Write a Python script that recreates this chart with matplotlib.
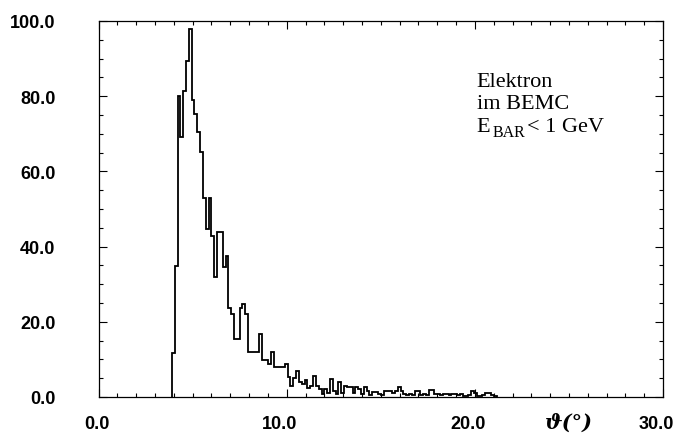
"""
Elektron im BEMC, E_BAR < 1 GeV — Winkelverteilung (Histogramm, Stufenlinie)
"""
import numpy as np
import matplotlib
matplotlib.use("Agg")
import matplotlib.pyplot as plt
from matplotlib.ticker import MultipleLocator, FixedLocator
from matplotlib.transforms import ScaledTranslation

# Histogramm: Binbreite 0.15 Grad, erster Bin beginnt bei 3.9
bin_start = 3.9
bin_width = 0.15
counts = [
    11.7, 34.8, 80.1, 69.1, 81.5, 89.4, 97.9, 78.9, 75.3, 70.4,
    65.1, 52.8, 44.7, 52.8, 42.9, 31.9, 43.8, 43.8, 34.6, 37.6,
    23.7, 22.1, 15.4, 15.4, 23.7, 24.7, 22.0, 11.9, 11.9, 11.9,
    11.9, 16.8, 9.9, 9.9, 8.8, 11.9, 7.9, 7.9, 7.9, 7.9,
    8.8, 5.2, 3.0, 5.0, 7.0, 4.0, 3.5, 4.5, 2.5, 3.0,
    5.7, 3.0, 2.0, 0.8, 2.0, 1.0, 4.8, 1.5, 0.8, 3.9,
    1.0, 3.0, 2.6, 2.6, 1.0, 2.6, 2.2, 0.8, 2.6, 1.5,
    0.5, 1.4, 1.4, 0.8, 0.5, 1.7, 1.7, 1.7, 1.0, 1.7,
    2.6, 1.7, 0.8, 0.5, 0.8, 0.5, 1.7, 1.7, 0.5, 0.8,
    0.5, 1.9, 1.9, 0.9, 0.9, 0.5, 0.9, 0.9, 0.5, 0.9,
    0.9, 0.5, 0.9, 0.3, 0.3, 0.5, 1.7, 1.0, 0.3, 0.3,
    0.5, 1.0, 1.0, 0.5, 0.3,
]
x_major = [0, 10, 20, 30]
x_labels = ["0.0", "10.0", "20.0", "30.0"]
y_major = [0, 20, 40, 60, 80, 100]
y_labels = ["0.0", "20.0", "40.0", "60.0", "80.0", "100.0"]
info_lines = ["Elektron", "im BEMC"]
cut_var, cut_sub, cut_rest = "E", "BAR", "< 1 GeV"

fig = plt.figure(figsize=(6.79, 4.35), dpi=100)
ax = fig.add_axes([0.1451, 0.0851, 0.8314, 0.8644])

edges = bin_start + bin_width * np.arange(len(counts) + 1)
ax.stairs(counts, edges, color="black", lw=1.3, baseline=0)

ax.set_xlim(0, 30)
ax.set_ylim(0, 100)
ax.xaxis.set_major_locator(FixedLocator(x_major))
ax.xaxis.set_minor_locator(MultipleLocator(1))
ax.yaxis.set_major_locator(FixedLocator(y_major))
ax.yaxis.set_minor_locator(MultipleLocator(5))
ax.set_xticklabels(x_labels, fontfamily="Liberation Sans", fontweight="bold", fontsize=13)
ax.set_yticklabels(y_labels, fontfamily="Liberation Sans", fontweight="bold", fontsize=13)
ax.tick_params(which="both", direction="in", top=True, right=True, width=0.8)
ax.tick_params(which="major", length=6)
ax.tick_params(which="minor", length=3)
ax.tick_params(axis="x", which="major", pad=13)
ax.tick_params(axis="y", which="major", pad=31)
for s in ax.spines.values():
    s.set_linewidth(0.9)
# x-Zahlen rechtsbündig, etwas rechts vom Strich (wie im Original)
shift = ScaledTranslation(11 / 100, 0, fig.dpi_scale_trans)
for lab in ax.get_xticklabels():
    lab.set_horizontalalignment("right")
    lab.set_transform(lab.get_transform() + shift)

# Achsentitel zwischen 20 und 30 auf Höhe der Zahlen
ax.text(25, -0.066, "ϑ(°)", transform=ax.get_xaxis_transform(),
        ha="center", va="center", fontsize=15, fontweight="bold",
        fontstyle="italic", family=["DejaVu Serif", "DejaVu Sans"])

tx, ty = 20.1, 82.8
for k, line in enumerate(info_lines):
    ax.text(tx, ty - 6.0 * k, line, ha="left", va="baseline",
            fontsize=16, fontfamily="Liberation Serif")
y3 = ty - 12.0
ax.annotate(cut_var, (tx, y3), ha="left", va="baseline",
            fontsize=16, fontfamily="Liberation Serif")
ax.annotate(cut_sub, (tx, y3), xytext=(11.5, -4), textcoords="offset points",
            ha="left", va="baseline", fontsize=11.5, fontfamily="Liberation Serif")
ax.annotate(cut_rest, (tx, y3), xytext=(36, 0), textcoords="offset points",
            ha="left", va="baseline", fontsize=16, fontfamily="Liberation Serif")

fig.savefig("out.png", dpi=100)
